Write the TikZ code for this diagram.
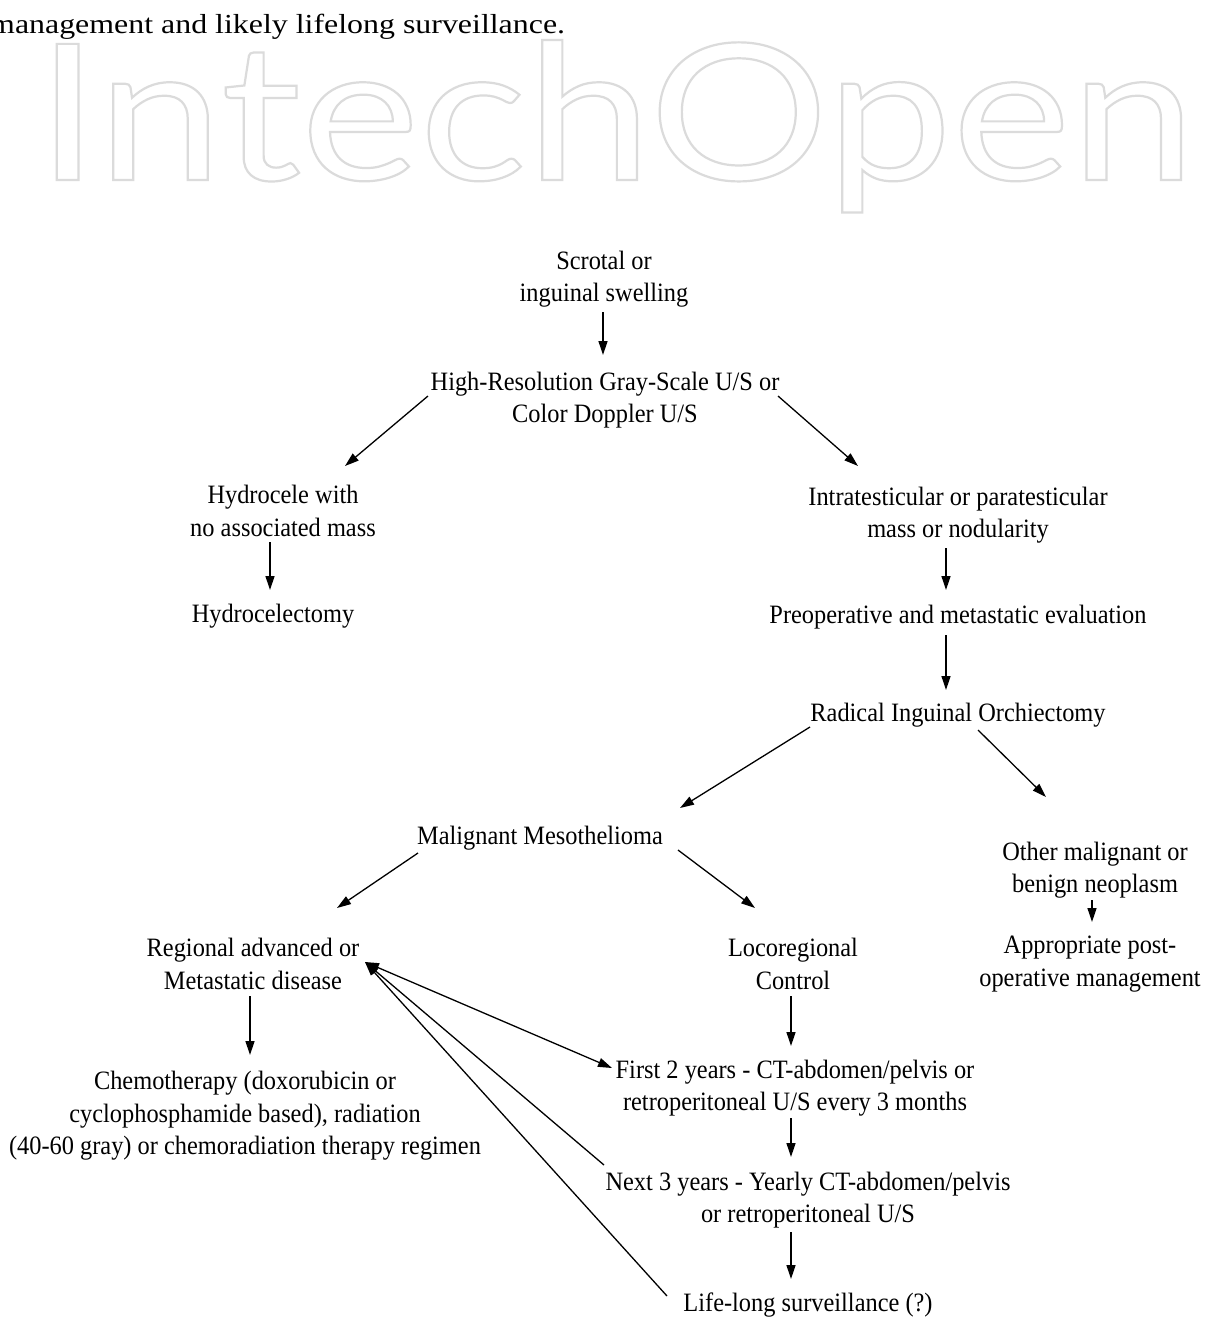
\documentclass[tikz,border=0pt]{standalone}
\usepackage{fontspec}
\setmainfont{Liberation Serif}[FakeStretch=0.92]
\newfontfamily\bodyfont{Liberation Serif}[FakeStretch=1.16]
\newfontfamily\wmfont{Lato}[FakeStretch=1.18]
\usetikzlibrary{arrows.meta}

\tikzset{
  txt/.style={align=center, inner sep=0pt, font=\fontsize{26.5}{32.5}\selectfont},
  arr/.style={-{Triangle[length=14pt,width=9pt]}, line width=1.3pt},
  dblarr/.style={{Triangle[length=14pt,width=9pt]}-{Triangle[length=14pt,width=9pt]}, line width=1.3pt},
}
\newcommand{\outlinetext}[1]{\special{pdf:literal direct 1 Tr 2.2 w 0.86 G}#1\special{pdf:literal direct 0 Tr}}

\begin{document}
\begin{tikzpicture}[x=1pt,y=-1pt]

\useasboundingbox[fill=white] (0,0) rectangle (1207,1331);

% page text and watermark
\node[anchor=base west, inner sep=0pt, font=\bodyfont\fontsize{27.5}{32}\selectfont] (bodyline) at (-10,33) {management and likely lifelong surveillance.};
\node[anchor=base west, inner sep=0pt, font=\wmfont\fontsize{190}{190}\selectfont] (watermark) at (36,180) {\outlinetext{IntechOpen}};

% nodes
\node[txt] (scrotal) at (604,279) {Scrotal or\\inguinal swelling};
\node[txt] (hrus) at (605,400) {High-Resolution Gray-Scale U/S or\\Color Doppler U/S};
\node[txt] (hydrocele) at (283,511) {Hydrocele with\\no associated mass};
\node[txt] (hydrect) at (273,616) {Hydrocelectomy};
\node[txt] (intra) at (958,515) {Intratesticular or paratesticular\\mass or nodularity};
\node[txt] (preop) at (958,617) {Preoperative and metastatic evaluation};
\node[txt] (orchi) at (958,715) {Radical Inguinal Orchiectomy};
\node[txt] (meso) at (540,838) {Malignant Mesothelioma};
\node[txt] (other) at (1095,870) {Other malignant or\\benign neoplasm};
\node[txt] (postop) at (1090,964) {Appropriate post-\\operative management};
\node[txt] (regional) at (253,964) {Regional advanced or\\Metastatic disease};
\node[txt] (loco) at (793,964) {Locoregional\\Control};
\node[txt] (chemo) at (245,1116) {Chemotherapy (doxorubicin or\\cyclophosphamide based), radiation\\(40-60 gray) or chemoradiation therapy regimen};
\node[txt] (first) at (795,1088) {First 2 years - CT-abdomen/pelvis or\\retroperitoneal U/S every 3 months};
\node[txt] (next) at (808,1200) {Next 3 years - Yearly CT-abdomen/pelvis\\or retroperitoneal U/S};
\node[txt] (life) at (808,1305) {Life-long surveillance (?)};

% arrows
\draw[arr] ([shift={(-1,33)}]scrotal.center) -- ([shift={(-2,-45)}]hrus.center);
\draw[arr] ([shift={(-177,-4)}]hrus.center) -- ([shift={(62,-45)}]hydrocele.center);
\draw[arr] ([shift={(173,-4)}]hrus.center) -- ([shift={(-100,-49)}]intra.center);
\draw[arr] ([shift={(-13,31)}]hydrocele.center) -- ([shift={(-3,-26)}]hydrect.center);
\draw[arr] ([shift={(-12,33)}]intra.center) -- ([shift={(-12,-27)}]preop.center);
\draw[arr] ([shift={(-12,18)}]preop.center) -- ([shift={(-12,-25)}]orchi.center);
\draw[arr] ([shift={(-148,12)}]orchi.center) -- ([shift={(140,-30)}]meso.center);
\draw[arr] ([shift={(20,15)}]orchi.center) -- ([shift={(-49,-73)}]other.center);
\draw[arr] ([shift={(-3,30)}]other.center) -- ([shift={(2,-42)}]postop.center);
\draw[arr] ([shift={(-122,15)}]meso.center) -- ([shift={(84,-56)}]regional.center);
\draw[arr] ([shift={(138,12)}]meso.center) -- ([shift={(-38,-56)}]loco.center);
\draw[arr] ([shift={(-3,32)}]regional.center) -- ([shift={(5,-61)}]chemo.center);
\draw[arr] ([shift={(-2,32)}]loco.center) -- ([shift={(-4,-42)}]first.center);
\draw[arr] ([shift={(-4,30)}]first.center) -- ([shift={(-17,-43)}]next.center);
\draw[arr] ([shift={(-17,32)}]next.center) -- ([shift={(-17,-26)}]life.center);
\draw[dblarr] ([shift={(112,-2)}]regional.center) -- ([shift={(-183,-20)}]first.center);
\draw[arr] ([shift={(-204,-35)}]next.center) -- ([shift={(112,-2)}]regional.center);
\draw[arr] ([shift={(-141,-9)}]life.center) -- ([shift={(112,-2)}]regional.center);

\end{tikzpicture}
\end{document}
